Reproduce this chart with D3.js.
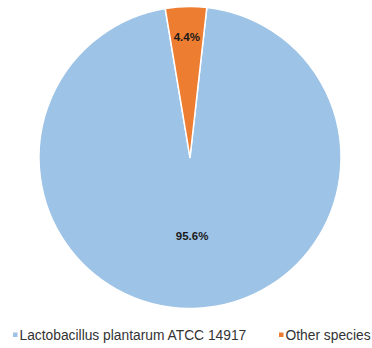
<!DOCTYPE html>
<html>
<head>
<meta charset="utf-8">
<script src="https://cdn.jsdelivr.net/npm/d3@7"></script>
<style>
  html, body { margin: 0; padding: 0; background: #fff; }
  svg { display: block; }
</style>
</head>
<body>
<svg id="chart" width="372" height="348"></svg>
<script>
// Share of reads per species
const categories = ["Lactobacillus plantarum ATCC 14917", "Other species"];
const values = [95.6, 4.4];
const labels = ["95.6%", "4.4%"];
const colors = ["#9dc3e6", "#ed7d31"];

const width = 372, height = 348;
const cx = 190, cy = 157.5, radius = 151;
const startDeg = 6.4;

const svg = d3.select("#chart");
const g = svg.append("g").attr("transform", `translate(${cx},${cy})`);

const pie = d3.pie()
  .sort(null)
  .value(d => d.value)
  .startAngle(startDeg * Math.PI / 180)
  .endAngle(startDeg * Math.PI / 180 + 2 * Math.PI);

const data = categories.map((c, i) => ({ name: c, value: values[i], label: labels[i], color: colors[i] }));
const arcs = pie(data);

const arc = d3.arc().innerRadius(0).outerRadius(radius);

g.selectAll("path.slice")
  .data(arcs)
  .join("path")
  .attr("class", "slice")
  .attr("d", arc)
  .attr("fill", d => d.data.color)
  .attr("stroke", "#fff")
  .attr("stroke-width", 1.5)
  .attr("stroke-linejoin", "round");

// Data labels: the large slice's label sits mid-radius, the thin slice's near the rim
const labelFrac = [0.52, 0.8];
g.selectAll("text.value")
  .data(arcs)
  .join("text")
  .attr("class", "value")
  .attr("transform", (d, i) => {
    const r = radius * labelFrac[i];
    const a = (d.startAngle + d.endAngle) / 2;
    return `translate(${r * Math.sin(a)},${-r * Math.cos(a)})`;
  })
  .attr("text-anchor", "middle")
  .attr("dominant-baseline", "central")
  .attr("font-family", "Liberation Sans, Arial, sans-serif")
  .attr("font-weight", "bold")
  .attr("font-size", "11.5px")
  .attr("fill", "#1a1a1a")
  .text(d => d.data.label);

// Legend
const legendX = [13, 279];
const legendY = 335;
const legend = svg.append("g").attr("class", "legend");
const items = legend.selectAll("g.item")
  .data(data)
  .join("g")
  .attr("class", "item")
  .attr("transform", (d, i) => `translate(${legendX[i]},${legendY})`);

items.append("rect")
  .attr("x", 0)
  .attr("y", -2.5)
  .attr("width", 4.5)
  .attr("height", 4.5)
  .attr("fill", d => d.color);

items.append("text")
  .attr("x", 6.5)
  .attr("y", 0)
  .attr("dominant-baseline", "central")
  .attr("font-family", "Liberation Sans, Arial, sans-serif")
  .attr("font-size", "13.8px")
  .attr("fill", "#333333")
  .text(d => d.name);
</script>
</body>
</html>
